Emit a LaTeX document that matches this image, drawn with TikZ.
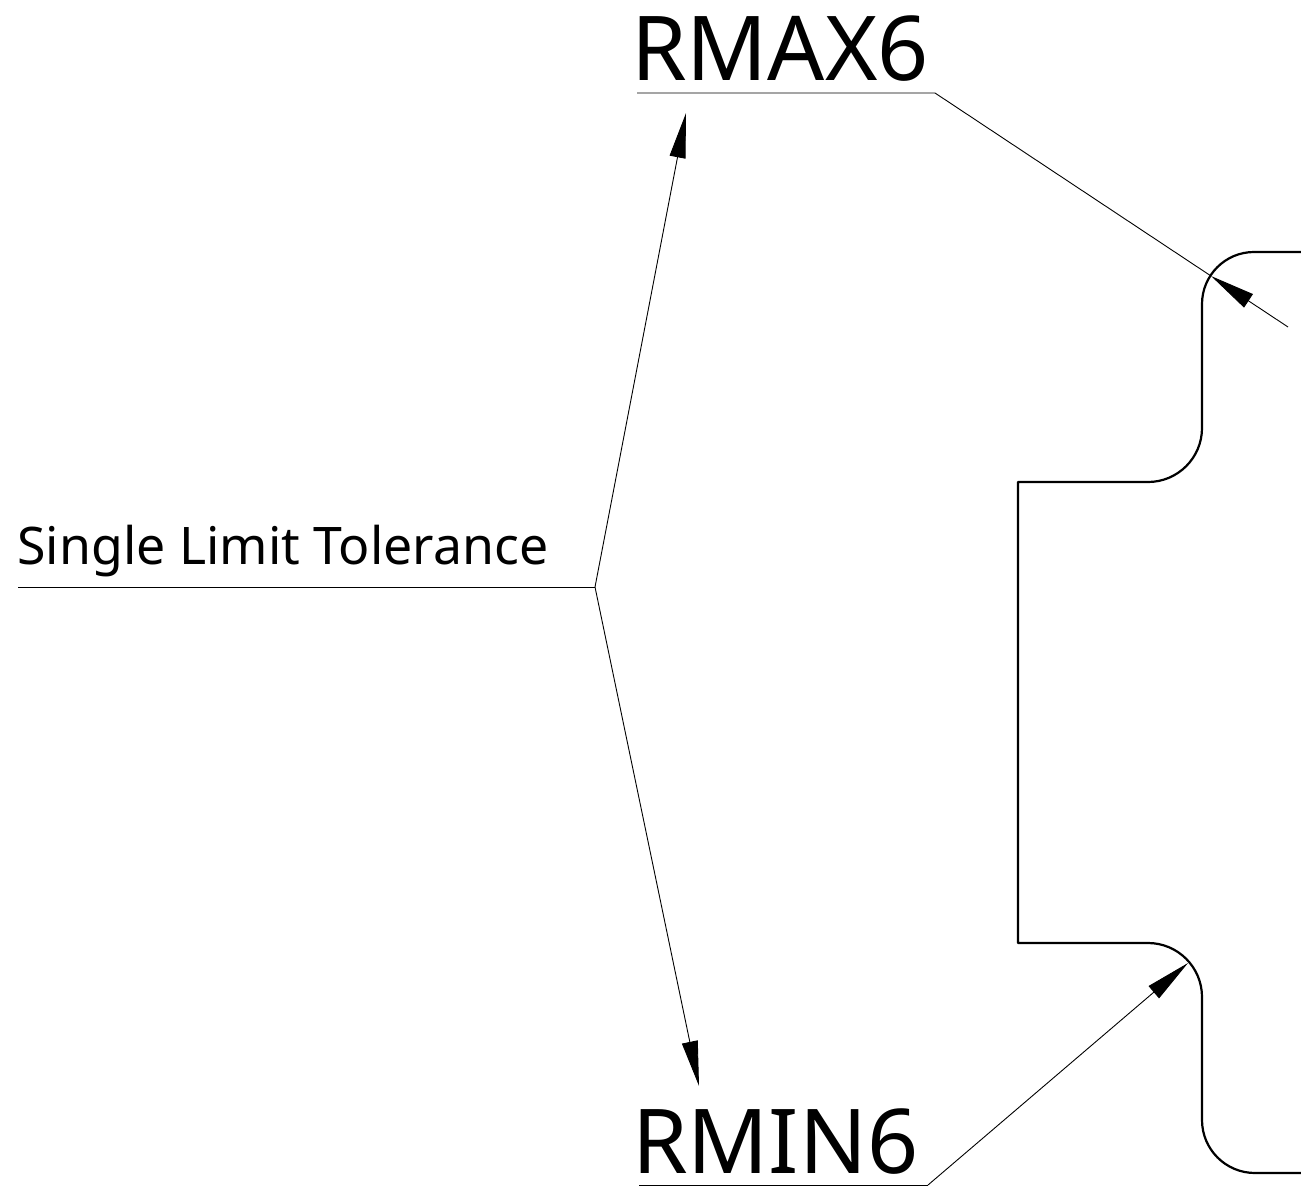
\documentclass[tikz,border=0pt]{standalone}
\usepackage{fontspec}
\setmainfont{Noto Sans}
\usetikzlibrary{arrows.meta}
\tikzset{
  leader/.style={line width=0.9pt,black},
  arrowed/.style={leader,-{Triangle[length=45pt,width=16pt,fill=black]}},
  profile/.style={line width=2.2pt,black,line join=round},
  bigtext/.style={font=\fontsize{89.5}{90}\selectfont,anchor=base west,inner sep=0pt,outer sep=0pt},
  smalltext/.style={font=\fontsize{51.8}{52}\selectfont,anchor=base west,inner sep=0pt,outer sep=0pt}
}
\begin{document}
\begin{tikzpicture}[x=1pt,y=-1pt]
\useasboundingbox (0,0) rectangle (1301,1199);
\fill[white] (0,0) rectangle (1301,1199);
% part profile
\draw[profile] (1302,252) -- (1254,252)
  .. controls (1225.3,252) and (1202,275.3) .. (1202,304)
  -- (1202,428)
  .. controls (1202,457.8) and (1177.8,482) .. (1148,482)
  -- (1018,482) -- (1018,943) -- (1148,943)
  .. controls (1177.8,943) and (1202,967.2) .. (1202,997)
  -- (1202,1120)
  .. controls (1202,1149.3) and (1225.7,1173) .. (1255,1173)
  -- (1302,1173);
% labels
\node[bigtext] (rmax) at (631,81) {RMAX6};
\node[bigtext] (rmin) at (632,1173) {RMIN6};
\node[smalltext] (single) at (17.5,564) {Single Limit Tolerance};
% leader points
\coordinate (hub) at (595,587);
\coordinate (singleEnd) at (18,587);
\coordinate (rmaxStart) at (637,93);
\coordinate (rmaxElbow) at (935,93);
\coordinate (rmaxTail) at (1288,327);
\coordinate (rmaxTip) at (1211,276);
\coordinate (rminStart) at (639,1185);
\coordinate (rminElbow) at (928,1185);
\coordinate (rminTip) at (1188,963);
\coordinate (upTip) at (686,113);
\coordinate (downTip) at (699,1086);
\draw[leader] (singleEnd) -- (hub);
\draw[arrowed] (hub) -- (upTip);
\draw[arrowed] (hub) -- (downTip);
\draw[leader] (rmaxStart) -- (rmaxElbow) -- (rmaxTip);
\draw[arrowed] (rmaxTail) -- (rmaxTip);
\draw[leader] (rminStart) -- (rminElbow);
\draw[arrowed] (rminElbow) -- (rminTip);
\end{tikzpicture}
\end{document}
